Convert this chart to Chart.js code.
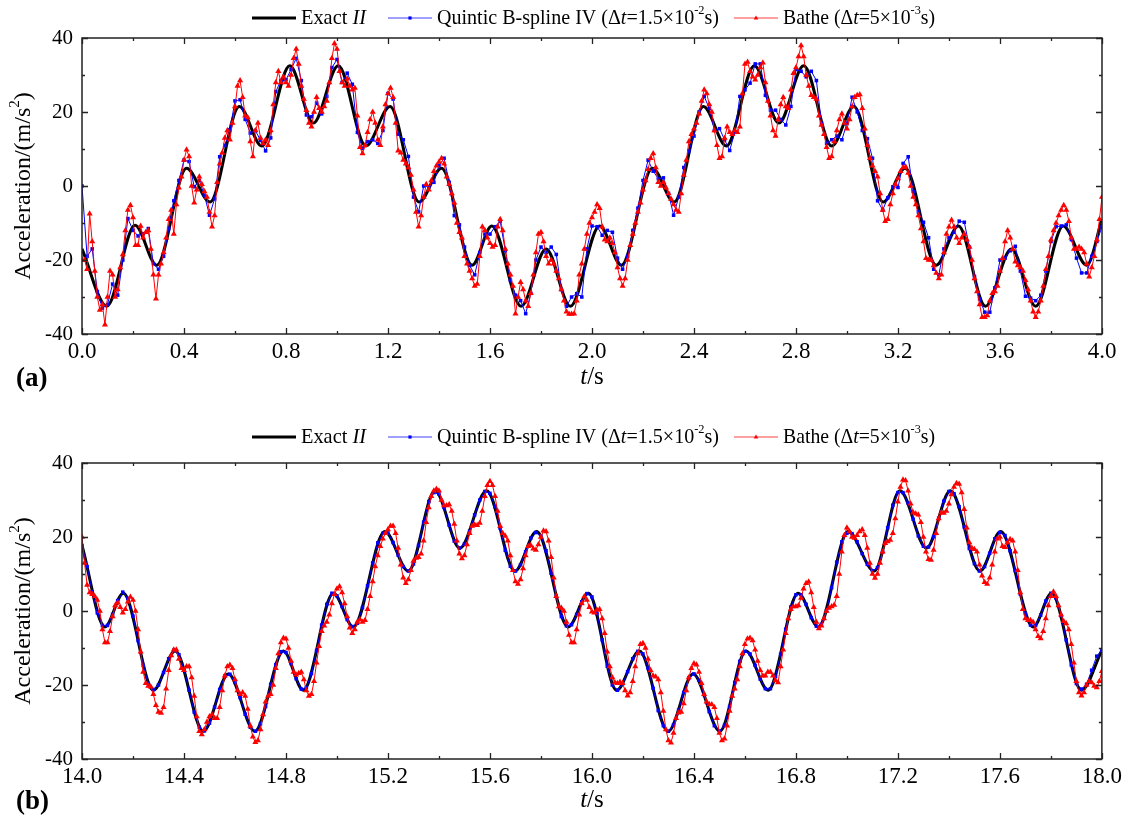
<!DOCTYPE html>
<html>
<head>
<meta charset="utf-8">
<title>Acceleration response</title>
<script src="https://cdn.jsdelivr.net/npm/chart.js@4.4.1/dist/chart.umd.min.js"></script>
<style>
  body { margin: 0; background: #fff; }
  #wrap { position: relative; width: 1126px; height: 815px; overflow: hidden; }
  canvas { position: absolute; left: 0; }
  #chartA { top: 0; }
  #chartB { top: 410px; }
</style>
</head>
<body>
<div id="wrap">
  <canvas id="chartA" width="1126" height="410"></canvas>
  <canvas id="chartB" width="1126" height="405"></canvas>
</div>
<script>
// ---- panel (a): 0 - 4 s ----
// exact solution: turning points (time, acceleration)
const exactTimeA = [0, 0.097, 0.208, 0.293, 0.41, 0.502, 0.617, 0.705, 0.815, 0.907,
  1.005, 1.113, 1.208, 1.322, 1.41, 1.53, 1.607, 1.722, 1.82, 1.915,
  2.03, 2.115, 2.237, 2.322, 2.437, 2.527, 2.637, 2.733, 2.83, 2.94,
  3.027, 3.142, 3.228, 3.35, 3.437, 3.543, 3.645, 3.74, 3.848, 3.94, 4.0];
const exactAccA = [-17, -32.5, -10.6, -21.4, 4.8, -4.3, 21.5, 10.8, 32.5, 17,
  32.5, 10.8, 21.5, -4.3, 4.8, -21.4, -10.8, -32.5, -17, -32.5,
  -10.8, -21.4, 4.8, -4.3, 21.5, 10.8, 32.5, 17, 32.5, 10.8,
  21.5, -4.3, 4.8, -21.4, -10.8, -32.5, -17, -32.5, -10.8, -21.4, -9];

// quintic B-spline, every 0.02 s from 0
const quinticAccA = [
  0, -19, -17, -28.5, -33, -32, -26.5, -29.5, -20, -8.8,
  -12, -13.5, -12.9, -11.5, -21, -22.5, -19, -11.5, -4, 1.5,
  7, 6.6, -0.2, 1.5, -2.5, -7.9, -3.5, 7.9, 11, 15.2,
  23, 23.3, 18, 14.3, 15, 12.3, 9.5, 13, 25.5, 28.5,
  28.7, 31.5, 34.5, 28.5, 19.2, 18.7, 22.4, 19.5, 24.2, 32,
  34.2, 28, 30.5, 27.5, 14.5, 10.2, 12, 12.5, 11.5, 15,
  25, 23.5, 14, 12.5, 8, -3, -7, 0, -0.2, 1,
  5.5, 7.5, 1, -8, -10.5, -16.5, -21.5, -24, -18, -13,
  -13, -11, -9.5, -17.5, -25.5, -29.5, -31, -34.5, -29, -20,
  -16.5, -18, -16.5, -18.5, -28, -32.5, -30, -29.1, -30, -17,
  -10.8, -11, -13.3, -12, -12.5, -19.5, -22.5, -19, -12, -6,
  1.5, 7, 4, 2, 2.2, -2, -7.9, -3, 5, 9.5,
  13.5, 20, 24.2, 21, 15, 15.5, 12.5, 9.6, 14.5, 24.2,
  26, 27.8, 33, 33, 24.5, 20.5, 20.5, 18, 16.5, 21.5,
  31.5, 31, 29.5, 31, 28.5, 17, 11.5, 12.5, 13.5, 12.5,
  17, 24, 20, 15, 12.8, 7.5, -4, -6.5, -3.2, -0.2,
  -0.4, 6.1, 7.9, -1.5, -7, -9.8, -14, -22.5, -24, -17,
  -14, -12.5, -9.5, -9.8, -16.5, -24.5, -30.5, -34.1, -34.1, -27.5,
  -20, -19.5, -17.5, -16.3, -23, -29.8, -30.3, -31, -29.5, -23,
  -15, -11, -10.8, -10.5, -14.5, -19.5, -23.5, -23.5, -19, -15,
  -11];

// Bathe, every 0.01 s from 0
const batheAccA = [
  -20, -20, -22.5, -7.5, -15, -23, -30, -33.5, -32, -37.5,
  -30, -23, -24, -30, -28, -22, -18.5, -12, -6.5, -5.2,
  -8.5, -16, -16, -10.8, -14, -12.5, -12, -17, -24, -30.5,
  -24, -21, -18, -14, -9, -6.5, -13, -5, -0.5, 2.5,
  7, 9.8, 8, 0, -4.5, -1, 2.5, 0.5, -1.5, -3,
  -7, -11, -8, 1, 6, 9, 13, 15, 12.5, 17,
  21.5, 27, 28.5, 24, 19, 18.5, 12, 8, 15, 17,
  13, 11.5, 12.5, 11, 15, 22, 28, 31, 28, 29.5,
  28, 27, 30, 34.5, 37, 33, 27, 23.5, 20.5, 17,
  16, 20, 24, 21, 20, 21.5, 23, 28, 34.5, 38.5,
  37, 31, 28, 27, 29, 27, 26, 26.5, 19, 10.5,
  8.8, 11, 14.5, 18, 20, 17, 12.5, 11, 16, 22,
  25, 26.5, 24, 17, 9.5, 9, 7, 6, 5, 3,
  -1, -7, -11, -8, -3, 0.5, -1, 1.5, 4, 5.5,
  6.5, 7.5, 6, 2.5, 0.5, -2, -4.5, -10, -12.5, -14,
  -19, -21, -23, -25, -27, -26.5, -19, -11, -12, -14,
  -15.5, -16.5, -16, -11, -9, -12, -17, -21, -24, -27,
  -34.5, -30, -26, -28, -31, -32.5, -29, -24, -18, -13,
  -12.5, -15, -19, -21, -20, -21, -23, -25, -28, -31,
  -34, -34.6, -34.6, -34.5, -31, -24, -21, -17, -13, -10,
  -8.5, -7, -5, -6, -11, -14.5, -15, -14, -15.5, -18,
  -22, -25, -27, -25, -20, -16, -13, -10, -7, -4.5,
  -1, 1.5, 4.5, 7.5, 8.8, 5, 1, 0, 1, -0.5,
  -2, -3.5, -5, -6.5, -7, -2, 3, 7, 12, 14,
  15.5, 17, 19.5, 23, 26, 25, 22, 20, 15, 11,
  7.5, 8, 13, 16, 14.5, 14, 15, 14.5, 16, 25,
  33, 33.5, 31, 29.5, 28.7, 30, 32, 33.3, 28, 23,
  19, 15, 13.5, 18, 22, 24, 21.5, 21, 26, 30.5,
  32, 35, 38, 35, 30, 27, 24.5, 24, 23.5, 19,
  16.5, 14, 10.5, 7.5, 8, 12, 15, 18, 19.5, 17,
  15.5, 18, 21.5, 24, 24.5, 24.7, 21, 15.5, 11, 7.5,
  5.5, 4, 2.5, -2, -6.5, -9.5, -9, -5, -2, 0.5,
  2, 4, 5, 5.2, 3.5, 0, -3, -5, -8, -11.5,
  -15, -19.5, -20, -20, -21.5, -23.5, -25, -24, -18, -13,
  -11, -9.2, -11, -14, -15.5, -14, -13, -14.5, -16.5, -20,
  -25, -28.5, -32, -35.5, -35.5, -35, -31, -29, -28.5, -27,
  -23, -19.5, -15, -12, -14, -17, -20.5, -21.5, -22, -23,
  -25.5, -28, -31, -34, -35.5, -34, -31, -27, -22.5, -19,
  -14.5, -12, -10, -8, -6.5, -5.2, -6.5, -9.5, -14, -17,
  -17, -16.5, -17, -18, -21, -24.5, -22, -19, -14.5, -9,
  -3];

// ---- panel (b): 14 - 18 s ----
const exactTimeB = [14.0, 14.09, 14.162, 14.28, 14.365, 14.476, 14.574, 14.678, 14.79, 14.868,
  14.986, 15.064, 15.188, 15.28, 15.385, 15.482, 15.587, 15.698, 15.783, 15.907,
  15.986, 16.097, 16.186, 16.299, 16.397, 16.502, 16.604, 16.691, 16.809, 16.888,
  17.005, 17.107, 17.208, 17.312, 17.406, 17.522, 17.603, 17.731, 17.803, 17.92, 18.0];
const exactAccB = [17.7, -4.3, 4.8, -21.4, -10.8, -32.5, -17, -32.5, -10.8, -21.4,
  4.8, -4.3, 21.5, 10.8, 32.5, 17, 32.5, 10.8, 21.5, -4.3,
  4.8, -21.4, -10.8, -32.5, -17, -32.5, -10.8, -21.4, 4.8, -4.3,
  21.5, 10.8, 32.5, 17, 32.5, 10.8, 21.5, -4.3, 4.8, -21.4, -10.6];

// quintic B-spline, every 0.02 s from 14
const quinticAccB = [
  17.7, 12.0, 5.2, -0.5, -3.9, -3.9, -0.9, 2.8, 5.1, 3.4,
  -1.4, -8.0, -14.7, -19.6, -21.2, -20.0, -16.6, -12.9, -10.6, -11.8,
  -15.7, -21.4, -27.3, -31.4, -32.4, -30.3, -26.0, -21.2, -17.6, -17.1,
  -19.3, -23.4, -27.9, -31.4, -32.5, -30.5, -25.8, -19.8, -14.5, -11.0,
  -11.2, -14.2, -18.3, -21.1, -20.7, -16.9, -10.7, -3.8, 1.8, 4.8,
  4.1, 1.2, -2.3, -4.2, -3.3, 0.9, 6.8, 13.0, 18.4, 21.0,
  21.1, 18.5, 15.1, 12.0, 10.8, 12.7, 17.7, 24.0, 29.6, 32.0,
  31.6, 28.0, 23.2, 18.9, 17.0, 18.1, 21.5, 26.0, 30.0, 32.3,
  31.8, 28.2, 22.4, 16.4, 12.1, 10.8, 12.5, 16.0, 19.7, 21.2,
  20.3, 16.3, 10.2, 4.0, -1.5, -4.0, -3.7, -0.9, 2.5, 4.7,
  3.8, -0.7, -7.8, -14.9, -20.0, -21.4, -19.7, -16.4, -12.9, -10.9,
  -11.6, -15.4, -20.9, -26.9, -31.0, -32.5, -30.8, -26.8, -22.0, -18.1,
  -17.0, -18.7, -22.6, -27.2, -31.0, -32.5, -30.9, -25.8, -19.3, -13.6,
  -10.9, -11.6, -14.7, -18.4, -21.0, -21.0, -17.7, -11.7, -4.9, 1.1,
  4.4, 4.4, 1.8, -1.8, -4.1, -3.6, 0.1, 6.3, 13.2, 18.7,
  21.0, 20.9, 18.7, 15.5, 12.6, 10.9, 11.7, 16.0, 22.5, 28.6,
  32.0, 32.0, 29.2, 24.8, 20.3, 17.5, 17.3, 20.1, 25.1, 29.7,
  32.3, 31.7, 28.2, 22.7, 16.9, 12.8, 10.8, 12.0, 15.6, 19.5,
  21.2, 20.4, 16.3, 10.9, 4.6, -0.7, -3.8, -3.9, -1.1, 2.7,
  4.8, 3.5, -1.2, -7.8, -14.6, -19.6, -21.1, -19.8, -16.0, -12.2,
  -10.6];

// Bathe, every 0.01 s from 14
const batheAccB = [
  20, 13, 7, 5, 4.5, 4, 3, 0, -5, -8.5,
  -8.5, -5.5, -1.5, 1.5, 2.3, 1, -0.5, 0.5, 2.5, 3.8,
  3, 0, -5, -11, -16.5, -19.5, -20.3, -20.5, -22.5, -25.5,
  -27.3, -27.6, -26, -21, -16, -12, -10.5, -10.5, -13, -15.5,
  -16, -15, -15, -18, -23, -28.5, -32.5, -33.4, -32, -30,
  -28.5, -28, -29, -29, -26, -21.5, -17.5, -15, -14.6, -15.5,
  -18.5, -21.5, -22.5, -22, -23, -26.5, -31, -34, -35.5, -35,
  -32, -28, -24.5, -23, -22.5, -20, -15.5, -11.5, -8.5, -7.3,
  -7.5, -10, -13.5, -16.5, -17.2, -16.8, -16.5, -18.5, -21.5, -23,
  -22.5, -19, -14, -9.5, -5.5, -4, -3, -1, 2, 4.5,
  6, 6.6, 5, 2, -1.5, -4.5, -6, -5, -3, -2.3,
  -3, -2.5, 0.5, 4, 8, 12, 15, 17.5, 19.5, 21,
  22, 23, 23, 21, 17, 12.5, 9, 7.5, 8.5, 11,
  13.5, 14.3, 14.5, 15.5, 19, 24, 28, 31, 32.5, 33,
  32.5, 30, 28.5, 28.5, 28.8, 27, 23.5, 19, 15.5, 14.2,
  15, 18, 21, 23, 23.3, 23.2, 23.8, 27, 31, 34,
  35.1, 34, 31, 27, 23, 21, 20.3, 19, 15, 11,
  8, 7.3, 8.5, 11.5, 15, 17.5, 17.8, 16.8, 16.5, 18,
  20, 21.7, 21.5, 19, 14.5, 9, 4, 1.2, 0.8, 0,
  -3, -6.5, -8.5, -8.5, -5, -1, 2, 3.9, 3, 1,
  -0.2, -0.5, 0.3, 0.5, -2, -6, -11, -15, -18, -19.3,
  -19.5, -19.2, -19.5, -21.5, -22.9, -22, -19, -15, -11.5, -9,
  -8.7, -10, -13, -16, -17.5, -17.8, -18.5, -22, -27, -32,
  -35, -35.6, -33, -29, -27.5, -27.3, -25, -21.5, -18, -15.5,
  -14.2, -14.5, -16.5, -19.5, -22.5, -24.5, -25.2, -25.3, -26, -29,
  -33, -35, -34.5, -31, -27, -23, -21, -18.5, -15, -11.5,
  -9, -7.5, -7.3, -8, -10.5, -13.5, -16, -17.5, -17.5, -16.5,
  -16.5, -17.5, -18.8, -19.3, -15, -10.5, -6, -2, 0.5, 1.2,
  1.2, 1.5, 3.5, 6, 7.5, 7.9, 5, 1, -3, -4.7,
  -4, -2, 0, 0.8, 1.2, 1.6, 4, 10, 16, 20.5,
  22.5, 21.5, 20, 19.7, 20.5, 21.5, 22, 20.5, 17, 13,
  10, 8.9, 10, 13, 16, 18.3, 18.8, 19.2, 21, 25,
  29.5, 33.5, 35.5, 35.3, 32.5, 29, 26.6, 26.3, 26, 24,
  20, 16, 14, 13.8, 16.5, 21, 25, 26.6, 26.5, 27,
  29, 31.5, 33.5, 34.5, 34.3, 32, 27.5, 22.5, 18.5, 17,
  16.7, 16, 12.5, 9.5, 7.8, 7.3, 9, 12.5, 16, 19.5,
  20, 17.5, 17.2, 18.5, 19.4, 19, 16, 11, 5, 0.5,
  -2, -2.5, -2.5, -3, -5, -6.8, -7.4, -5.5, -2, 1.5,
  4, 5.2, 4, 1.5, -1, -2.8, -3.4, -5, -9, -14,
  -19, -22, -22.9, -22, -20, -19, -19.3, -20.3, -20.7, -19,
  -16.3];

const SERIF = "'Liberation Serif', 'Times New Roman', serif";

const pairs = (ts, ys) => ys.map((y, i) => ({ x: ts[i], y }));
const sampled = (t0, dt, ys) => ys.map((y, i) => ({ x: +(t0 + i * dt).toFixed(3), y }));

// rich text: [text, style] with style '', 'i', 'b' or 'sup'
function partFont(style, size) {
  if (style === 'sup') return `${Math.round(size * 0.62)}px ${SERIF}`;
  if (style === 'i') return `italic ${size}px ${SERIF}`;
  if (style === 'b') return `bold ${size}px ${SERIF}`;
  return `${size}px ${SERIF}`;
}
function richWidth(ctx, parts, size) {
  let w = 0;
  for (const [text, style] of parts) { ctx.font = partFont(style, size); w += ctx.measureText(text).width; }
  return w;
}
function drawRich(ctx, x, y, parts, size) {
  let cx = x;
  ctx.textBaseline = 'middle';
  ctx.textAlign = 'left';
  for (const [text, style] of parts) {
    ctx.font = partFont(style, size);
    ctx.fillText(text, cx, style === 'sup' ? y - size * 0.36 : y);
    cx += ctx.measureText(text).width;
  }
  return cx - x;
}

const legendItems = [
  { color: '#000000', width: 3, marker: null, parts: [['Exact ', ''], ['II', 'i']] },
  { color: '#0000ff', width: 1, marker: 'rect',
    parts: [['Quintic B-spline IV (Δ', ''], ['t', 'i'], ['=1.5×10', ''], ['-2', 'sup'], ['s)', '']] },
  { color: '#ff0000', width: 1, marker: 'triangle',
    parts: [['Bathe (Δ', ''], ['t', 'i'], ['=5×10', ''], ['-3', 'sup'], ['s)', '']] }
];
// legend entries: line start x and text end x
const legendSlots = [[252, 366], [388, 719], [734, 935]];

function drawMarker(ctx, style, x, y, color) {
  ctx.fillStyle = color;
  ctx.beginPath();
  if (style === 'rect') {
    ctx.rect(x - 1.6, y - 1.6, 3.2, 3.2);
  } else {
    ctx.moveTo(x, y - 2.6);
    ctx.lineTo(x + 2.3, y + 1.4);
    ctx.lineTo(x - 2.3, y + 1.4);
    ctx.closePath();
  }
  ctx.fill();
}

function panelDecor(cfg) {
  return {
    id: 'panelDecor',
    afterDraw(chart) {
      const { ctx, chartArea: a, scales: { x, y } } = chart;
      ctx.save();
      // frame
      ctx.strokeStyle = '#222';
      ctx.lineWidth = 1.5;
      ctx.strokeRect(a.left, a.top, a.right - a.left, a.bottom - a.top);
      // inward ticks on all four sides
      ctx.lineWidth = 1.3;
      ctx.beginPath();
      for (let i = 0; i <= 20; i++) {
        const px = Math.round(x.getPixelForValue(x.min + i * 0.2)) + 0.5;
        const len = i % 2 ? 3 : 6;
        ctx.moveTo(px, a.bottom); ctx.lineTo(px, a.bottom - len);
        ctx.moveTo(px, a.top); ctx.lineTo(px, a.top + len);
      }
      for (let v = -40; v <= 40; v += 10) {
        const py = Math.round(y.getPixelForValue(v)) + 0.5;
        const len = v % 20 ? 3 : 6;
        ctx.moveTo(a.left, py); ctx.lineTo(a.left + len, py);
        ctx.moveTo(a.right, py); ctx.lineTo(a.right - len, py);
      }
      ctx.stroke();

      ctx.fillStyle = '#000';
      // axis titles
      const xt = [['t', 'i'], ['/s', '']];
      drawRich(ctx, (a.left + a.right) / 2 - richWidth(ctx, xt, 25) / 2, cfg.xTitleY, xt, 25);
      const yt = [['Acceleration/(m/s', ''], ['2', 'sup'], [')', '']];
      ctx.save();
      ctx.translate(24, (a.top + a.bottom) / 2);
      ctx.rotate(-Math.PI / 2);
      drawRich(ctx, -richWidth(ctx, yt, 24) / 2, 0, yt, 24);
      ctx.restore();
      // panel tag
      ctx.fillStyle = '#000';
      drawRich(ctx, 16, cfg.xTitleY + 2, [[cfg.tag, 'b']], 27);

      // legend
      legendItems.forEach((it, k) => {
        const [lx, textEnd] = legendSlots[k];
        const ly = cfg.legendY;
        ctx.strokeStyle = it.color;
        ctx.lineWidth = it.width;
        ctx.globalAlpha = it.marker ? 0.75 : 1;
        ctx.beginPath();
        ctx.moveTo(lx, ly); ctx.lineTo(lx + 44, ly);
        ctx.stroke();
        ctx.globalAlpha = 1;
        if (it.marker) drawMarker(ctx, it.marker, lx + 22, ly, it.color);
        const tx = lx + 49;
        const natural = richWidth(ctx, it.parts, 21);
        ctx.save();
        ctx.translate(tx, ly);
        ctx.scale(Math.min(1, (textEnd - tx) / natural), 1);
        ctx.fillStyle = '#000';
        drawRich(ctx, 0, 0, it.parts, 21);
        ctx.restore();
      });
      ctx.restore();
    }
  };
}

function makePanel(id, cfg) {
  return new Chart(document.getElementById(id), {
    type: 'line',
    data: {
      datasets: [
        { label: 'Exact II', data: pairs(cfg.exactT, cfg.exactY), borderColor: '#000', borderWidth: 3,
          pointRadius: 0, cubicInterpolationMode: 'monotone', order: 3 },
        { label: 'Quintic B-spline IV', data: sampled(cfg.t0, 0.02, cfg.quintic), borderColor: '#0000ff',
          backgroundColor: '#0000ff', borderWidth: 1, pointStyle: 'rect', pointRadius: 2.5,
          pointBorderWidth: 0, order: 2 },
        { label: 'Bathe', data: sampled(cfg.t0, 0.01, cfg.bathe), borderColor: '#ff0000',
          backgroundColor: '#ff0000', borderWidth: 1, pointStyle: 'triangle', pointRadius: 3.5,
          pointBorderWidth: 0, order: 1 }
      ]
    },
    options: {
      responsive: false,
      animation: false,
      devicePixelRatio: 1,
      layout: { padding: { top: cfg.padTop, right: 24, left: 0, bottom: 0 } },
      plugins: { legend: { display: false }, tooltip: { enabled: false } },
      scales: {
        x: {
          type: 'linear', min: cfg.t0, max: cfg.t0 + 4,
          afterFit: s => { s.height = cfg.xAxisH; },
          ticks: { stepSize: 0.4, autoSkip: false, maxRotation: 0, padding: 4, color: '#000',
                   font: { family: SERIF, size: 23 }, callback: v => v.toFixed(1) },
          grid: { display: false, drawTicks: false },
          border: { display: false }
        },
        y: {
          min: -40, max: 40,
          afterFit: s => { s.width = 82; },
          ticks: { stepSize: 20, padding: 9, color: '#000', font: { family: SERIF, size: 21 } },
          grid: { display: false, drawTicks: false },
          border: { display: false }
        }
      }
    },
    plugins: [panelDecor(cfg)]
  });
}

makePanel('chartA', {
  t0: 0, exactT: exactTimeA, exactY: exactAccA, quintic: quinticAccA, bathe: batheAccA,
  padTop: 38, xAxisH: 76, xTitleY: 377, tag: '(a)', legendY: 18
});
makePanel('chartB', {
  t0: 14, exactT: exactTimeB, exactY: exactAccB, quintic: quinticAccB, bathe: batheAccB,
  padTop: 53, xAxisH: 56, xTitleY: 390, tag: '(b)', legendY: 27
});
</script>
</body>
</html>
